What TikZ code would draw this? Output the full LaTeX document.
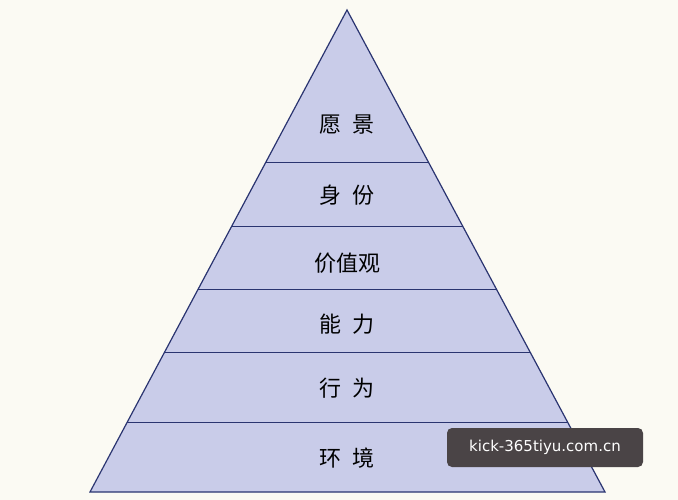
\documentclass[tikz,border=0pt]{standalone}
\usepackage{fontspec}
\newfontfamily\cjk{Noto Sans CJK SC}
\setsansfont{DejaVu Sans}
\usetikzlibrary{calc}
\definecolor{bg}{HTML}{FBFAF3}
\definecolor{pfill}{HTML}{C9CCE9}
\definecolor{pline}{HTML}{2A3470}
\definecolor{wm}{HTML}{4A4446}
\begin{document}
\begin{tikzpicture}[x=1pt,y=-1pt,
  lbl/.style={font=\cjk\fontsize{22}{26}\selectfont,text=black},
  sep/.style={draw=pline,line width=1pt}]
\useasboundingbox[fill=bg] (0,0) rectangle (678,500);
\coordinate (apex) at (347,10);
\coordinate (bl) at (90,492);
\coordinate (br) at (605,492);
\draw[fill=pfill,draw=pline,line width=1.2pt,line join=miter] (apex) -- (bl) -- (br) -- cycle;
\foreach \t/\n in {0.3174/a,0.4502/b,0.5809/c,0.7116/d,0.8568/e}{
  \coordinate (L\n) at ($(apex)!\t!(bl)$);
  \coordinate (R\n) at ($(apex)!\t!(br)$);
  \draw[sep] (L\n) -- (R\n);
}
\node[lbl] (t1) at (347,125) {愿\hspace{0.5em}景};
\node[lbl] (t2) at (347,195) {身\hspace{0.5em}份};
\node[lbl] (t3) at (347,263) {价值观};
\node[lbl] (t4) at (347,324) {能\hspace{0.5em}力};
\node[lbl] (t5) at (347,388) {行\hspace{0.5em}为};
\node[lbl] (t6) at (347,458) {环\hspace{0.5em}境};
\node[fill=wm,rounded corners=5pt,minimum width=196pt,minimum height=39pt,text=white,
  font=\sffamily\fontsize{15}{18}\selectfont] (wm) at (545,447.5) {kick-365tiyu.com.cn};
\end{tikzpicture}
\end{document}
